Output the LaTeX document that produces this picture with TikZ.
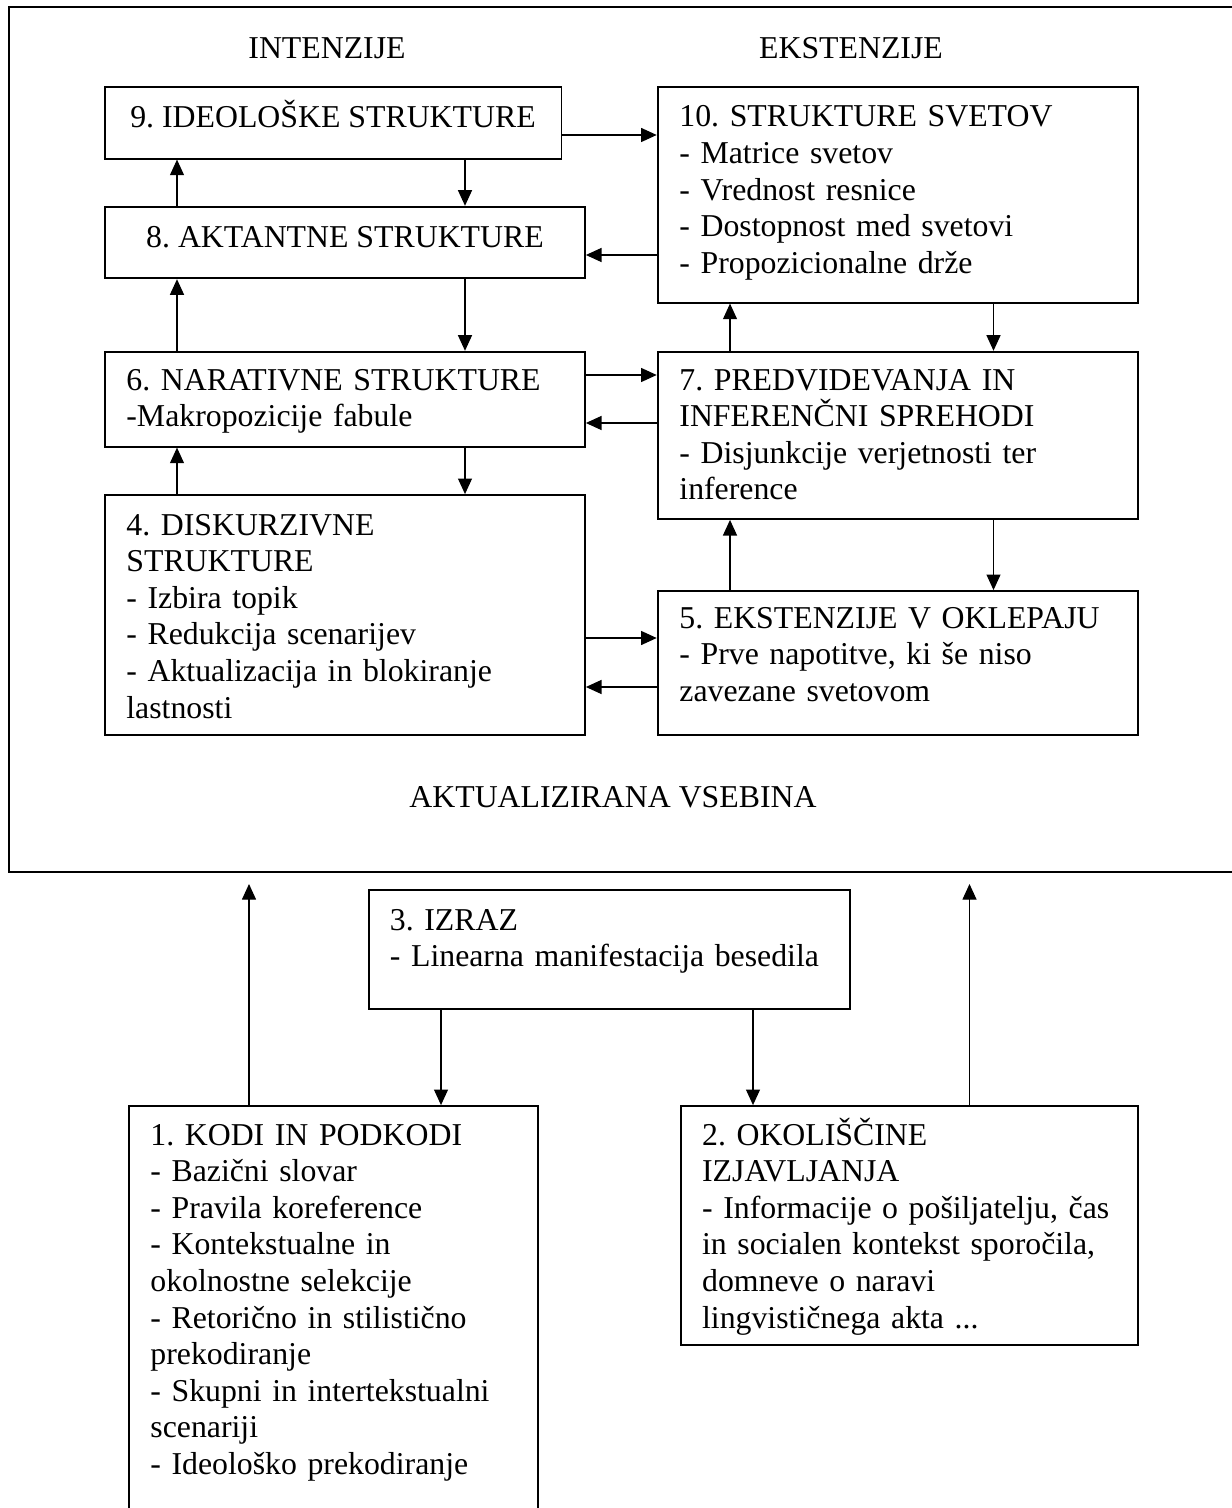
\documentclass[tikz,border=0pt]{standalone}
\usepackage{fontspec}
\setmainfont{Liberation Serif}
\usetikzlibrary{arrows.meta,fit}
\frenchspacing

\begin{document}
\begin{tikzpicture}[x=0.5pt,y=-0.5pt,font=\fontsize{15.9}{18.3}\selectfont,
  box/.style={draw,line width=0.9pt,inner sep=0pt},
  txt/.style={anchor=base west,align=left,text width=230pt,inner sep=0pt},
  arr/.style={line width=0.6pt,-{Triangle[length=7.8pt,width=7pt]}}]
  \useasboundingbox (0,0) rectangle (1231,1508);
  % outer frame and its captions
  \node[box,line width=1pt,fit={(8.7,7.3) (1250,872)}] (outer) {};
  \node[anchor=base] (intz) at (327,59) {INTENZIJE};
  \node[anchor=base] (ekst) at (851,59) {EKSTENZIJE};
  \node[anchor=base] (aktv) at (613,807) {AKTUALIZIRANA VSEBINA};
  % boxes
  \node[box,fit={(105,87.3) (561.5,158.7)}] (b9) {};
  \node[box,fit={(657.6,87) (1137.7,302.7)}] (b10) {};
  \node[box,fit={(105,206.7) (585,278.3)}] (b8) {};
  \node[box,fit={(105,351.7) (585,446.7)}] (b6) {};
  \node[box,fit={(657.6,351.7) (1137.7,519)}] (b7) {};
  \node[box,fit={(105,495) (585,735)}] (b4) {};
  \node[box,fit={(657.6,591) (1137.7,735)}] (b5) {};
  \node[box,fit={(369,890) (849.7,1009)}] (b3) {};
  \node[box,fit={(129,1106) (537.7,1530)}] (b1) {};
  \node[box,fit={(681,1106) (1138.3,1345)}] (b2) {};
  % texts
  \node[anchor=base] (t9) at (333,128) {9. IDEOLOŠKE STRUKTURE};
  \node[anchor=base] (t8) at (345,248) {8. AKTANTNE STRUKTURE};
  \node[txt] (t10) at (679,127) {10. STRUKTURE SVETOV\\- Matrice svetov\\- Vrednost resnice\\- Dostopnost med svetovi\\- Propozicionalne drže};
  \node[txt] (t6) at (126,390) {6. NARATIVNE STRUKTURE\\-Makropozicije fabule};
  \node[txt] (t7) at (679,390) {7. PREDVIDEVANJA IN\\INFERENČNI SPREHODI\\- Disjunkcije verjetnosti ter\\inference};
  \node[txt] (t4) at (126,535) {4. DISKURZIVNE\\STRUKTURE\\- Izbira topik\\- Redukcija scenarijev\\- Aktualizacija in blokiranje\\lastnosti};
  \node[txt] (t5) at (679,628) {5. EKSTENZIJE V OKLEPAJU\\- Prve napotitve, ki še niso\\zavezane svetovom};
  \node[txt] (t3) at (389.5,930) {3. IZRAZ\\- Linearna manifestacija besedila};
  \node[txt] (t1) at (150,1145) {1. KODI IN PODKODI\\- Bazični slovar\\- Pravila koreference\\- Kontekstualne in\\okolnostne selekcije\\- Retorično in stilistično\\prekodiranje\\- Skupni in intertekstualni\\scenariji\\- Ideološko prekodiranje};
  \node[txt] (t2) at (701.7,1145) {2. OKOLIŠČINE\\IZJAVLJANJA\\- Informacije o pošiljatelju, čas\\in socialen kontekst sporočila,\\domneve o naravi\\lingvističnega akta ...};
  % columns and rows of the connectors
  \coordinate (cA) at (177,0);
  \coordinate (cB) at (465,0);
  \coordinate (cC) at (730,0);
  \coordinate (cD) at (993.5,0);
  \coordinate (cE) at (249,0);
  \coordinate (cF) at (441,0);
  \coordinate (cG) at (753,0);
  \coordinate (cH) at (969.5,0);
  \coordinate (r1) at (0,135);
  \coordinate (r2) at (0,255);
  \coordinate (r3) at (0,375);
  \coordinate (r4) at (0,423);
  \coordinate (r5) at (0,638);
  \coordinate (r6) at (0,687);
  % connectors
  \foreach \a/\b/\c in {b8/b9/cA,b6/b8/cA,b4/b6/cA,b7/b10/cC,b5/b7/cC}
    \draw[arr] (\a.north -| \c) -- (\b.south -| \c);
  \foreach \a/\b/\c in {b9/b8/cB,b8/b6/cB,b6/b4/cB,b10/b7/cD,b7/b5/cD,b3/b1/cF,b3/b2/cG}
    \draw[arr] (\a.south -| \c) -- (\b.north -| \c);
  \foreach \a/\b/\r in {b9/b10/r1,b6/b7/r3,b4/b5/r5}
    \draw[arr] (\a.east |- \r) -- (\b.west |- \r);
  \foreach \a/\b/\r in {b10/b8/r2,b7/b6/r4,b5/b4/r6}
    \draw[arr] (\a.west |- \r) -- (\b.east |- \r);
  \foreach \a/\c in {b1/cE,b2/cH}
    \draw[arr,shorten >=5.5pt] (\a.north -| \c) -- (outer.south -| \c);
\end{tikzpicture}
\end{document}
